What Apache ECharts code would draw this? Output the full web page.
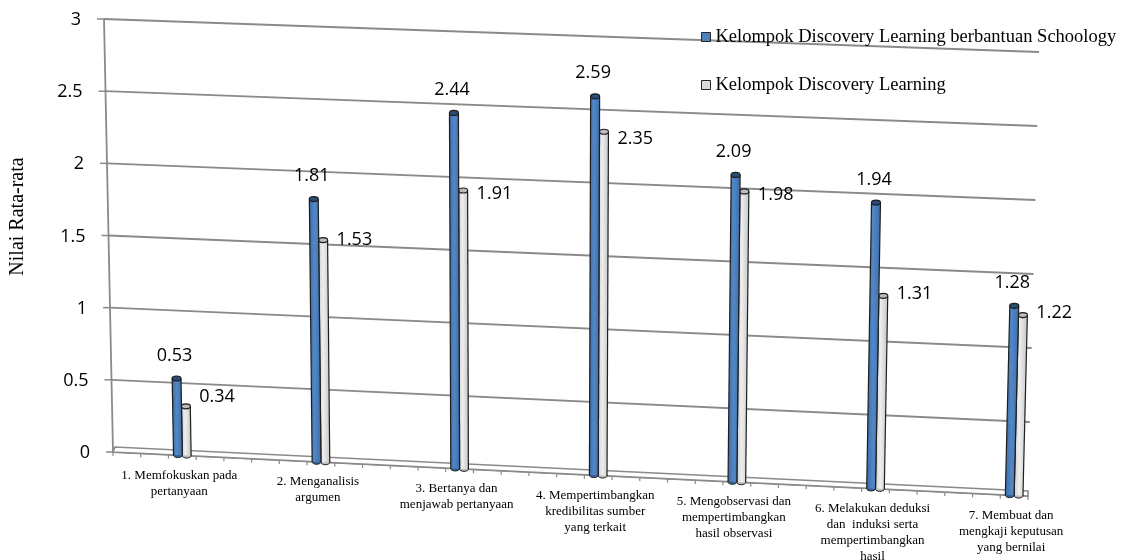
<!DOCTYPE html>
<html>
<head>
<meta charset="utf-8">
<title>Nilai Rata-rata per Indikator</title>
<script src="https://cdn.jsdelivr.net/npm/echarts@6/dist/echarts.min.js"></script>
<style>
  html, body { margin: 0; padding: 0; background: #fff; }
  #chart { width: 1121px; height: 560px; }
</style>
</head>
<body>
<div id="chart"></div>
<script>
// ---- data ----
const categories = [
  '1. Memfokuskan pada\npertanyaan',
  '2. Menganalisis\nargumen',
  '3. Bertanya dan\nmenjawab pertanyaan',
  '4. Mempertimbangkan\nkredibilitas sumber\nyang terkait',
  '5. Mengobservasi dan\nmempertimbangkan\nhasil observasi',
  '6. Melakukan deduksi\ndan  induksi serta\nmempertimbangkan\nhasil',
  '7. Membuat dan\nmengkaji keputusan\nyang bernilai'
];
const schoologyValues = [0.53, 1.81, 2.44, 2.59, 2.09, 1.94, 1.28];
const discoveryValues = [0.34, 1.53, 1.91, 2.35, 1.98, 1.31, 1.22];
const seriesNames = [
  'Kelompok Discovery Learning berbantuan Schoology',
  'Kelompok Discovery Learning'
];
const valueTicks = [0, 0.5, 1, 1.5, 2, 2.5, 3];
const tickLabels = ['0', '0.5', '1', '1.5', '2', '2.5', '3'];
const yAxisTitle = 'Nilai Rata-rata';

// ---- layout / style ----
const X_MIN = -0.5, X_MAX = 6.1;      // category positions 0..6 on a value axis
const BAR_W = 9;                       // cylinder diameter in px
const GRID_COLOR = '#8a8a8a';
const OUTLINE = '#1e1e1e';
const NUM_FONT = '18px "Open Sans", "Liberation Sans", sans-serif';
const SERIF = '"Liberation Serif", "Times New Roman", serif';

// Oblique 3D look: the plot rectangle is bent into a quadrilateral.
// Corner offsets (px): bottom-left leans right, the right side drops.
const TILT = { blX: 9, trY: 33, brX: -11, brY: 44 };
function project(px, py, cs) {
  const s = (px - cs.x) / cs.width;
  const t = (py - cs.y) / cs.height;
  const dx = (1 - s) * t * TILT.blX + s * t * TILT.brX;
  const dy = s * (1 - t) * TILT.trY + s * t * TILT.brY;
  return [px + dx, py + dy];
}

function lineEl(a, b, color, width, z2) {
  return {
    type: 'line',
    shape: { x1: a[0], y1: a[1], x2: b[0], y2: b[1] },
    style: { stroke: color, lineWidth: width },
    z2: z2 || 0
  };
}

// back-wall gridlines, value ticks and their labels
function renderGrid(params, api) {
  const cs = params.coordSys;
  const v = api.value(1);
  const idx = params.dataIndex;
  const left = api.coord([X_MIN, v]);
  const right = api.coord([X_MAX, v]);
  const a = project(left[0], left[1], cs);
  const b = project(right[0], right[1], cs);
  const children = [
    lineEl(a, b, GRID_COLOR, 1.8),
    lineEl([a[0] - 7, a[1]], a, GRID_COLOR, 1.5),
    {
      type: 'text',
      style: {
        text: tickLabels[idx], x: a[0] - 23, y: a[1] + 1,
        align: 'right', verticalAlign: 'middle',
        textAlign: 'right', textVerticalAlign: 'middle',
        font: NUM_FONT, fill: '#000'
      }
    }
  ];
  if (idx === 0) {
    // the wall's left edge
    const top = api.coord([X_MIN, valueTicks[valueTicks.length - 1]]);
    const t = project(top[0], top[1], cs);
    children.push(lineEl(t, a, GRID_COLOR, 1.8));
  }
  return { type: 'group', children: children };
}

// floor slab and its tick marks
function renderFloor(params, api) {
  const cs = params.coordSys;
  const l = api.coord([X_MIN, 0]);
  const r = api.coord([X_MAX, 0]);
  const fl = project(l[0], l[1], cs);
  const fr = project(r[0], r[1], cs);
  const bl = [fl[0] + 2, fl[1] - 5];
  const br = [fr[0], fr[1] - 5];
  const children = [{
    type: 'polygon',
    shape: { points: [fl, fr, br, bl] },
    style: { fill: '#ffffff', stroke: GRID_COLOR, lineWidth: 1.6 }
  }];
  for (let u = X_MIN; u <= X_MAX + 1e-9; u += 0.2) {
    const c = api.coord([u, 0]);
    const p = project(c[0], c[1], cs);
    children.push(lineEl(p, [p[0], p[1] + 4], GRID_COLOR, 1.2));
  }
  return { type: 'group', children: children };
}

// one cylinder per item; side = -1 sits left of the category centre, +1 right
function makeCylinder(side, look) {
  return function (params, api) {
    const cs = params.coordSys;
    const i = api.value(0);
    const v = api.value(1);
    const base = api.coord([i, 0]);
    const top = api.coord([i, v]);
    const half = BAR_W / 2;
    const cx = base[0] + side * half;
    const tl = project(cx - half, top[1], cs);
    const tr = project(cx + half, top[1], cs);
    const bl = project(cx - half, base[1], cs);
    const br = project(cx + half, base[1], cs);
    const tc = project(cx, top[1], cs);
    const bc = project(cx, base[1], cs);
    const body = new echarts.graphic.LinearGradient(0, 0, 1, 0, look.stops);
    const label = v.toFixed(2);
    const labelStyle = side < 0
      ? { x: tc[0] - 2, y: tc[1] - 23, align: 'center', textAlign: 'center' }
      : { x: tr[0] + 9, y: tc[1] + (v - 1.5) * 8, align: 'left', textAlign: 'left' };
    return {
      type: 'group',
      children: [
        { type: 'ellipse', shape: { cx: bc[0], cy: bc[1], rx: half, ry: 2.5 },
          style: { fill: look.side, stroke: OUTLINE, lineWidth: 1 } },
        { type: 'polygon', shape: { points: [tl, tr, br, bl] },
          style: { fill: body } },
        lineEl(tl, bl, OUTLINE, 1.2),
        lineEl(tr, br, OUTLINE, 1.2),
        { type: 'ellipse', shape: { cx: tc[0], cy: tc[1], rx: half, ry: 2.5 },
          style: { fill: look.cap, stroke: OUTLINE, lineWidth: 1.2 } },
        { type: 'text',
          style: Object.assign({
            text: label, verticalAlign: 'middle', textVerticalAlign: 'middle',
            font: NUM_FONT, fill: '#000'
          }, labelStyle) }
      ]
    };
  };
}

// category names under the floor
function renderCategory(params, api) {
  const cs = params.coordSys;
  const i = api.value(0);
  const c = api.coord([i, 0]);
  const p = project(c[0], c[1], cs);
  return {
    type: 'text',
    style: {
      text: categories[i], x: p[0] - 3, y: p[1] + 12,
      align: 'center', verticalAlign: 'top',
      textAlign: 'center', textVerticalAlign: 'top',
      fontFamily: SERIF, fontSize: 13, lineHeight: 16, fill: '#000'
    }
  };
}

const blueLook = {
  stops: [
    { offset: 0, color: '#3d6ca8' },
    { offset: 0.45, color: '#5287c6' },
    { offset: 1, color: '#3f6eaa' }
  ],
  side: '#355f95',
  cap: '#2b4c78'
};
const grayLook = {
  stops: [
    { offset: 0, color: '#d0d0d0' },
    { offset: 0.4, color: '#eeeeee' },
    { offset: 1, color: '#c6c6c6' }
  ],
  side: '#bdbdbd',
  cap: '#bcbcbc'
};

const chart = echarts.init(document.getElementById('chart'));
chart.setOption({
  animation: false,
  backgroundColor: '#ffffff',
  grid: { left: 97, top: 19, width: 942, height: 433, containLabel: false },
  xAxis: {
    type: 'value', min: X_MIN, max: X_MAX, show: false
  },
  yAxis: {
    type: 'value', min: 0, max: 3, interval: 0.5,
    axisLine: { show: false }, axisTick: { show: false },
    axisLabel: { show: false }, splitLine: { show: false },
    name: yAxisTitle, nameLocation: 'middle', nameRotate: 90, nameGap: 76,
    nameTextStyle: { fontFamily: SERIF, fontSize: 20, color: '#000', padding: [0, 0, 0, 38] }
  },
  legend: {
    data: seriesNames,
    orient: 'vertical', left: 696, top: 22,
    icon: 'rect', itemWidth: 9, itemHeight: 9, itemGap: 28,
    itemStyle: { borderColor: '#262626', borderWidth: 1 },
    textStyle: { fontFamily: SERIF, fontSize: 18.5, lineHeight: 20, color: '#000' },
    selectedMode: false
  },
  series: [
    {
      type: 'custom', name: 'wall', coordinateSystem: 'cartesian2d', z: 1,
      renderItem: renderGrid, silent: true,
      data: valueTicks.map((v) => [X_MIN, v])
    },
    {
      type: 'custom', name: 'floor', coordinateSystem: 'cartesian2d', z: 1,
      renderItem: renderFloor, silent: true,
      data: [[X_MIN, 0]]
    },
    {
      type: 'custom', name: seriesNames[0], coordinateSystem: 'cartesian2d', z: 4,
      itemStyle: { color: '#4f81bd' },
      renderItem: makeCylinder(-1, blueLook),
      data: schoologyValues.map((v, i) => [i, v])
    },
    {
      type: 'custom', name: seriesNames[1], coordinateSystem: 'cartesian2d', z: 3,
      itemStyle: { color: '#d9d9d9' },
      renderItem: makeCylinder(1, grayLook),
      data: discoveryValues.map((v, i) => [i, v])
    },
    {
      type: 'custom', name: 'categories', coordinateSystem: 'cartesian2d', z: 2,
      renderItem: renderCategory, silent: true,
      data: categories.map((c, i) => [i, 0])
    }
  ]
});
</script>
</body>
</html>
